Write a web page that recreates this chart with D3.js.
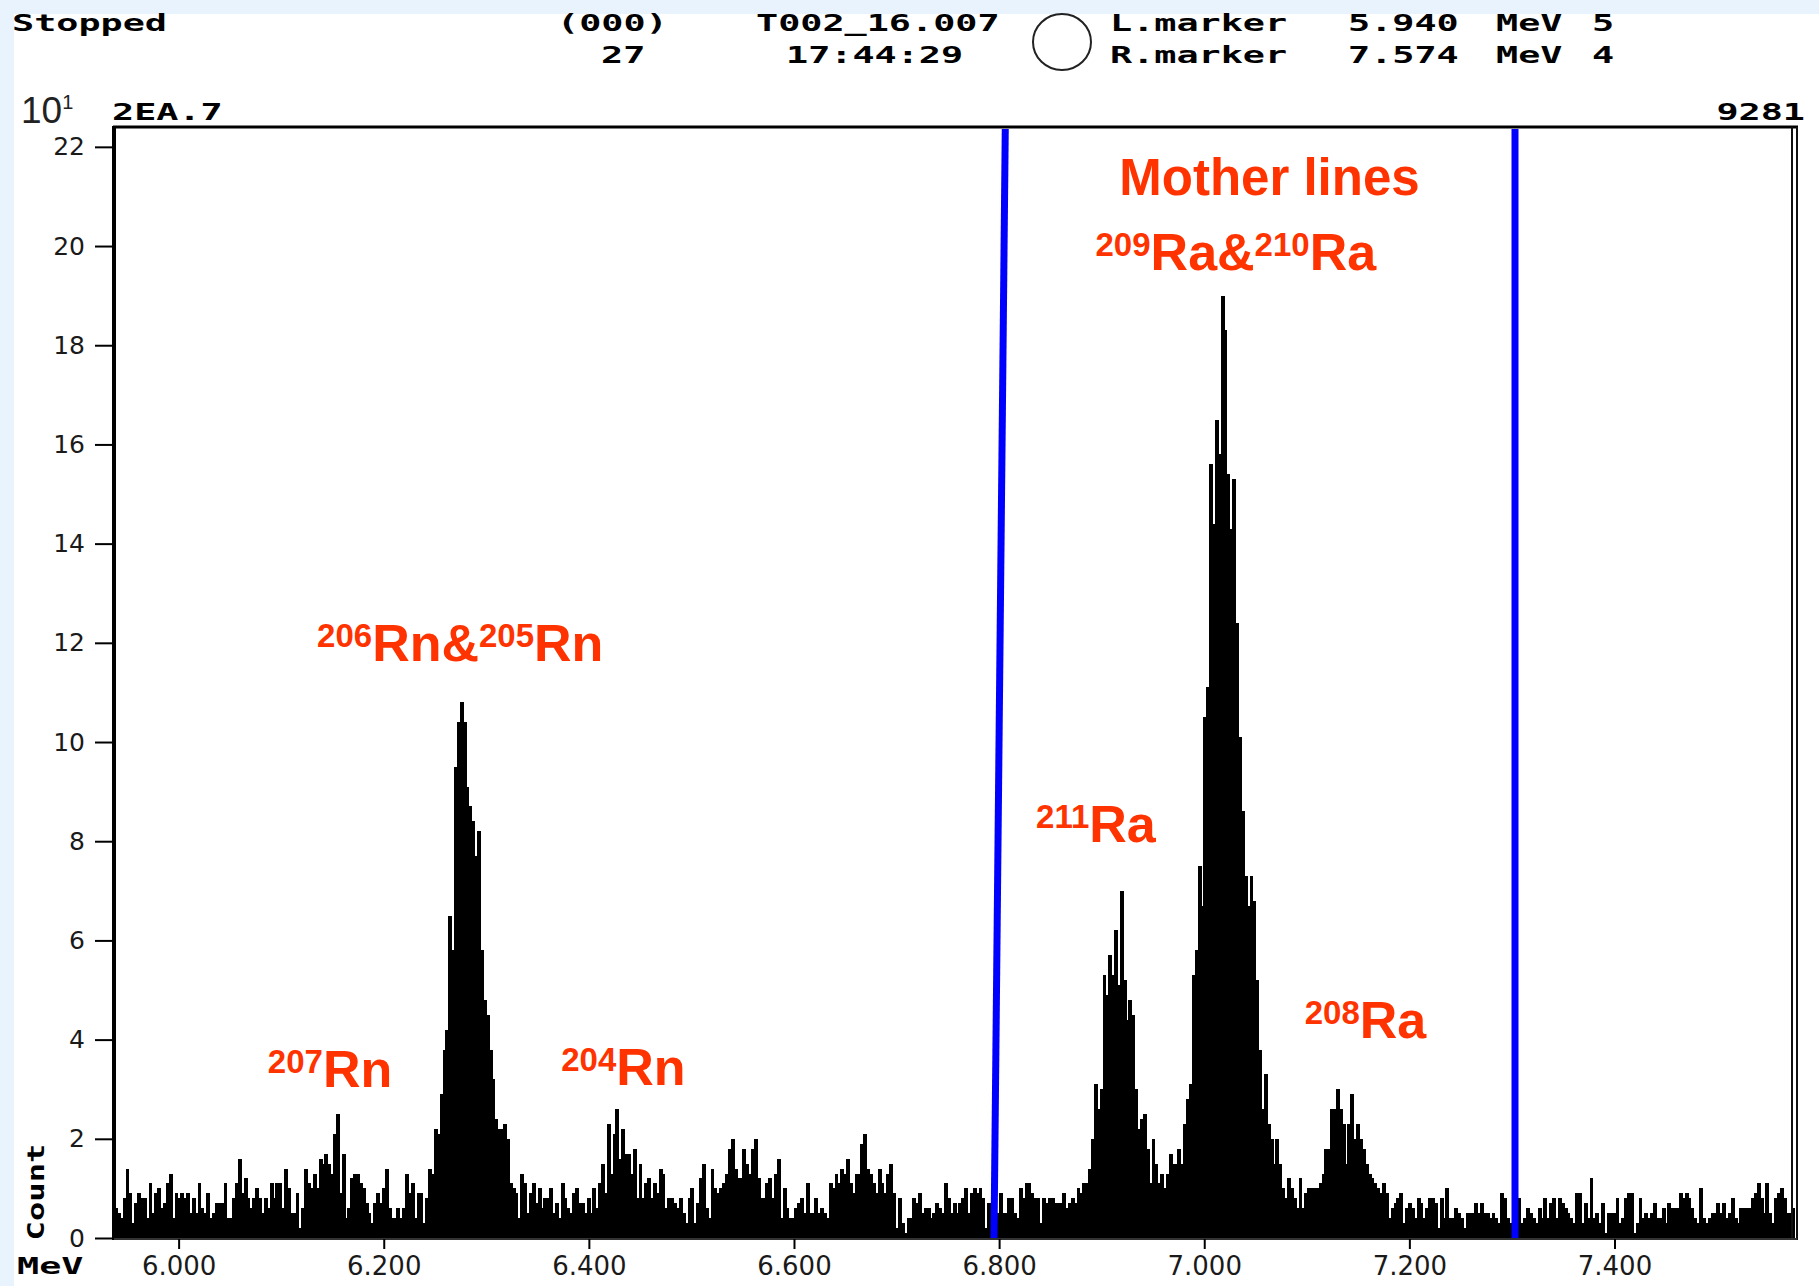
<!DOCTYPE html>
<html>
<head>
<meta charset="utf-8">
<title>Alpha spectrum</title>
<script src="https://cdn.jsdelivr.net/npm/d3@7/dist/d3.min.js"></script>
<style>
  body { margin: 0; background: #ffffff; }
  svg { display: block; }
  .hdr { font-family: "DejaVu Sans Mono", monospace; font-weight: bold; font-size: 23px; fill: #000; }
  .tick text { font-family: "DejaVu Sans", sans-serif; fill: #1a1a1a; }
  .tick line { stroke: #000; stroke-width: 2; }
  .iso { font-family: "Liberation Sans", Arial, sans-serif; font-weight: bold; fill: #ff3300; }
</style>
</head>
<body>
<svg id="chart" width="1819" height="1286"></svg>
<script>
// channel contents (counts per channel), channels of 2.81 keV from 5.937 MeV
var startMeV = 5.937;
var binMeV = 0.00281;

// 5.937 - 6.215 : background and 207Rn
var countsRn207 = [6,5,4,8,14,9,3,7,9,8,8,4,11,5,9,10,6,7,11,
    13,4,9,8,9,8,9,5,8,5,11,6,5,9,4,5,7,7,7,11,4,4,
    8,11,16,9,12,8,6,8,10,8,5,
    8,6,11,8,11,11,6,14,10,5,5,
    9,2,6,14,11,10,13,10,16,15,17,15,13,21,25,
    9,17,4,6,12,13,
    13,11,10,7,5,3,7,9,7,10,
    14,6,4,4,6];
// 6.215 - 6.341 : 206Rn & 205Rn
var countsRn206 = [4,6,13,9,11,4,9,9,3,8,14,13,22,21,29,38,42,65,58,95,
    104,108,104,91,87,84,77,82,58,48,45,38,32,24,22,22,23,20,11,10,
    9,4,13,11,5];
// 6.341 - 6.799 : 204Rn and the small lines
var countsRn204 = [9,11,7,10,6,8,8,10,5,7,
    4,11,8,6,5,9,10,7,7,5,
    8,5,10,6,11,15,9,23,13,21,
    26,16,22,17,17,13,18,8,15,8,
    11,12,8,11,9,14,13,6,8,8,
    7,6,8,5,3,8,10,3,7,12,
    15,6,4,14,10,9,10,11,13,18,
    20,14,12,12,18,15,13,18,20,12,
    8,8,11,12,8,13,16,4,10,6,
    4,4,6,7,8,5,11,5,5,8,
    5,6,5,4,11,10,13,11,14,13,
    16,11,9,13,13,19,21,14,13,11,
    9,14,11,9,13,15,9,2,8,3,
    1,4,4,8,7,9,5,6,6,4,
    5,7,6,5,11,8,5,7,5,7,
    8,10,5,9,10,9,10,8,2,7,
    6,5,5];
// 6.799 - 7.173 : 211Ra, 209Ra & 210Ra, 208Ra
var countsRa = [9,5,5,8,8,5,4,10,8,11,11,9,
    8,8,3,8,7,8,8,7,7,7,9,6,7,
    8,7,10,9,11,11,14,20,31,26,30,53,49,57,53,62,51,70,
    52,44,48,45,30,22,24,25,18,11,20,15,11,13,10,
    13,17,15,15,18,15,23,28,31,53,58,75,67,105,111,156,144,165,158,190,
    183,154,143,153,124,101,86,73,67,73,68,52,38,26,33,23,20,15,20,15,10,
    8,12,10,8,6,12,6,9,10,10,10,10,11,
    13,18,18,26,26,30,26,23,15,23,29,20,23,20,18,15,13,12,11,10,9];
// 7.173 - 7.575 : background
var countsHigh = [11,9,4,6,7,
    8,9,3,6,7,6,4,8,7,4,6,8,8,
    7,2,8,4,10,4,4,6,5,4,2,5,5,5,
    7,5,7,5,5,4,5,4,3,9,8,4,
    3,1,4,8,3,4,6,5,4,3,6,
    4,8,4,7,8,4,8,7,6,5,4,3,9,9,3,7,
    4,12,4,5,3,7,1,5,5,5,8,3,4,8,9,9,1,3,8,4,5,
    4,5,7,4,4,6,3,7,6,6,6,9,8,9,8,6,
    4,3,10,4,3,4,5,5,7,5,7,4,5,8,4,3,6,6,
    6,6,8,9,11,8,5,11,5,3,8,9,10,8,5,5,
    6];

var counts = countsRn207.concat(countsRn206, countsRn204, countsRa, countsHigh);

var xTicks = [6.0, 6.2, 6.4, 6.6, 6.8, 7.0, 7.2, 7.4];
var yTicks = [0, 2, 4, 6, 8, 10, 12, 14, 16, 18, 20, 22];
var xDomain = [5.937, 7.576];
var yDomain = [0, 22.4];          // in units of 10 counts
var markerLeft = [6.806, 6.795];  // MeV at top, at bottom
var markerRight = [7.303, 7.303];

var svg = d3.select("#chart");
var W = 1819, H = 1286;
var plot = {left: 114, right: 1795, top: 127, bottom: 1238};

var x = d3.scaleLinear().domain(xDomain).range([plot.left, plot.right]);
var y = d3.scaleLinear().domain(yDomain).range([plot.bottom, plot.top]);

// background strips
svg.append("rect").attr("width", W).attr("height", H).attr("fill", "#ffffff");
svg.append("rect").attr("width", W).attr("height", 14).attr("fill", "#e8f3fe");
svg.append("rect").attr("width", 14).attr("height", H).attr("fill", "#e8f3fe");

// histogram
svg.append("g")
    .attr("shape-rendering", "crispEdges")
    .selectAll("rect")
    .data(counts)
    .join("rect")
    .attr("x", function(d, i) { return x(startMeV + i * binMeV); })
    .attr("width", function(d, i) {
        return x(startMeV + (i + 1) * binMeV) - x(startMeV + i * binMeV) + 1;
    })
    .attr("y", function(d) { return y(d / 10); })
    .attr("height", function(d) { return y(0) - y(d / 10); })
    .attr("fill", "#000");

// frame
var frame = svg.append("g").attr("fill", "none");
frame.append("line").attr("x1", plot.left - 1).attr("x2", 1798).attr("y1", plot.top).attr("y2", plot.top)
    .attr("stroke", "#000").attr("stroke-width", 3);
frame.append("line").attr("x1", plot.left).attr("x2", plot.left).attr("y1", plot.top - 1).attr("y2", plot.bottom + 2)
    .attr("stroke", "#000").attr("stroke-width", 4);
frame.append("line").attr("x1", 1792).attr("x2", 1792).attr("y1", plot.top).attr("y2", plot.bottom + 2)
    .attr("stroke", "#111").attr("stroke-width", 2);
frame.append("line").attr("x1", 1797).attr("x2", 1797).attr("y1", plot.top).attr("y2", plot.bottom + 2)
    .attr("stroke", "#111").attr("stroke-width", 2);
frame.append("line").attr("x1", plot.left).attr("x2", 1797).attr("y1", plot.bottom + 1).attr("y2", plot.bottom + 1)
    .attr("stroke", "#333").attr("stroke-width", 2);

// axes
var gy = svg.append("g")
    .attr("transform", "translate(" + plot.left + ",0)")
    .call(d3.axisLeft(y).tickValues(yTicks).tickSize(19).tickPadding(10).tickSizeOuter(0));
gy.select(".domain").remove();
gy.selectAll(".tick text").style("font-size", "25px");

var gx = svg.append("g")
    .attr("transform", "translate(0," + (plot.bottom + 1) + ")")
    .call(d3.axisBottom(x).tickValues(xTicks).tickFormat(d3.format(".3f")).tickSize(10).tickPadding(8).tickSizeOuter(0));
gx.select(".domain").remove();
gx.selectAll(".tick text").style("font-size", "26px");

// marker lines
svg.append("line")
    .attr("x1", x(markerLeft[0])).attr("y1", plot.top + 2)
    .attr("x2", x(markerLeft[1])).attr("y2", y(0))
    .attr("stroke", "#0000ff").attr("stroke-width", 7);
svg.append("line")
    .attr("x1", x(markerRight[0])).attr("y1", plot.top + 2)
    .attr("x2", x(markerRight[1])).attr("y2", y(0))
    .attr("stroke", "#0000ff").attr("stroke-width", 7);

// header, wide bitmap-like text
function hdr(px, py, s, anchor) {
    return svg.append("text").attr("class", "hdr")
        .attr("transform", "translate(" + px + "," + py + ") scale(1.6,1)")
        .attr("text-anchor", anchor || "start")
        .text(s);
}
hdr(12, 31, "Stopped");
hdr(557, 31, "(000)");
hdr(601, 63, "27");
hdr(756, 31, "T002_16.007");
hdr(786, 63, "17:44:29");
svg.append("ellipse").attr("cx", 1062).attr("cy", 42).attr("rx", 29).attr("ry", 28)
    .attr("fill", "none").attr("stroke", "#222").attr("stroke-width", 2);
hdr(1110, 31, "L.marker");
hdr(1348, 31, "5.940");
hdr(1496, 31, "MeV");
hdr(1592, 31, "5");
hdr(1110, 63, "R.marker");
hdr(1348, 63, "7.574");
hdr(1496, 63, "MeV");
hdr(1592, 63, "4");
hdr(112, 120, "2EA.7");
hdr(1805, 120, "9281", "end");
hdr(17, 1274, "MeV");

var tenth = svg.append("text").attr("x", 21).attr("y", 123)
    .style("font-family", "'Liberation Sans', Arial, sans-serif").style("font-weight", "300").attr("fill", "#222");
tenth.append("tspan").style("font-size", "37px").text("10");
tenth.append("tspan").style("font-size", "20px").attr("dy", -14).text("1");

svg.append("text").attr("class", "hdr")
    .attr("transform", "translate(44,1192) rotate(-90) scale(1.4,1)")
    .attr("text-anchor", "middle")
    .text("Count");

// isotope labels
function iso(ex, ev, parts) {
    var t = svg.append("text").attr("class", "iso").attr("x", x(ex)).attr("y", y(ev));
    parts.forEach(function(p) {
        t.append("tspan").style("font-size", "33px").attr("dy", -14).text(p[0]);
        t.append("tspan").style("font-size", "52px").attr("dy", 14).text(p[1]);
    });
    return t;
}
svg.append("text").attr("class", "iso")
    .attr("x", x(7.0636)).attr("y", y(21.03))
    .attr("text-anchor", "middle")
    .style("font-size", "51px")
    .text("Mother lines");
iso(6.894, 19.52, [["209", "Ra&"], ["210", "Ra"]]);
iso(6.135, 11.63, [["206", "Rn&"], ["205", "Rn"]]);
iso(6.836, 7.98, [["211", "Ra"]]);
iso(7.098, 4.03, [["208", "Ra"]]);
iso(6.087, 3.04, [["207", "Rn"]]);
iso(6.373, 3.08, [["204", "Rn"]]);
</script>
</body>
</html>
